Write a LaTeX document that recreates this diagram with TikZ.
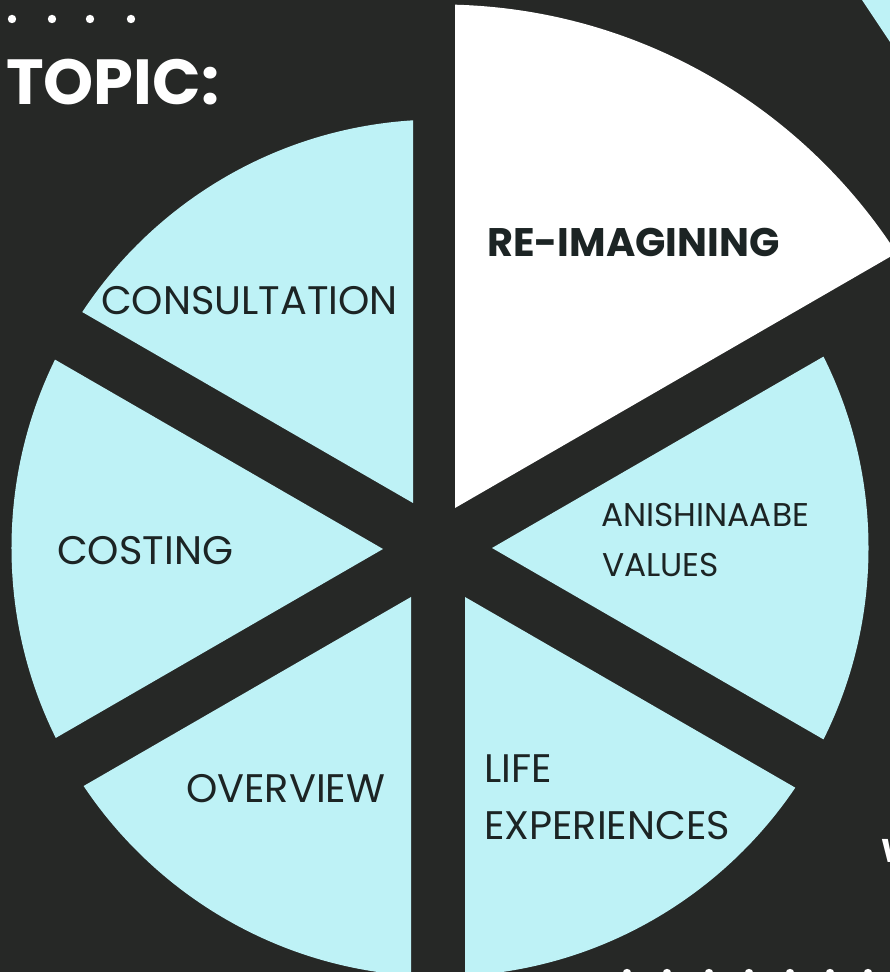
\documentclass[tikz,border=0pt]{standalone}
\usepackage{fontspec}
\setmainfont{Poppins}
\definecolor{board}{HTML}{262826}
\definecolor{sky}{HTML}{BEF2F6}
\definecolor{ink}{HTML}{1C2424}
\tikzset{
  lbl/.style={anchor=base west, inner sep=0pt, text=ink, font=\fontsize{40}{42}\selectfont},
  lblsmall/.style={anchor=base west, inner sep=0pt, text=ink, font=\fontsize{33}{35}\selectfont},
  dot/.style={fill=white, draw=none}
}
\newcommand{\piece}[4]{% apex, start angle, end angle, radius
  \begin{scope}
    \clip[shift={(#1)}] (0,0) -- (#2:1500) -- ({(#2+#3)/2}:1500) -- (#3:1500) -- cycle;
    \fill (centre) circle (#4);
  \end{scope}}
\begin{document}
\begin{tikzpicture}[x=1bp, y=1bp]
  \useasboundingbox (0,0) rectangle (890,972);
  \fill[board] (0,0) rectangle (890,972);
  \coordinate (centre) at (440,424);

  % six pie pieces, each with its own apex so the dark gaps show between them
  \begin{scope}[sky]
    \piece{413,469}{90}{150}{428.5bp}
    \piece{383,423}{150}{210}{428.5bp}
    \piece{411,375}{210}{270}{428.5bp}
    \piece{465,375}{270}{330}{428.5bp}
    \piece{492,424}{-30}{30}{428.5bp}
  \end{scope}
  \begin{scope}[white]
    \piece{455,464}{30}{90}{543.5bp}
  \end{scope}

  % corner of a neighbouring shape
  \fill[sky] (862,972) -- (890,972) -- (890,930) -- cycle;

  % dotted rows
  \foreach \x [count=\i] in {12,52,90,131} \fill[dot] (\x,953) circle (4.2bp) coordinate (td\i);
  \foreach \x [count=\i] in {627,667,709,749,790,830,868} \fill[dot] (\x,-1) circle (4.2bp) coordinate (bd\i);

  % heading
  \node[anchor=base west, inner sep=0pt, text=white, font=\fontsize{64}{66}\selectfont\bfseries] (topic) at (6,867) {TOPIC:};

  % labels
  \node[lbl] (consult) at (101,657) {CONSULTATION};
  \node[lbl, font=\fontsize{40}{42}\selectfont\bfseries] (reimag) at (487,715) {RE-IMAGINING};
  \node[lbl] (costing) at (57,407) {COSTING};
  \node[lbl] (overview) at (186,169) {OVERVIEW};
  \node[lblsmall] (anish) at (601,445) {ANISHINAABE};
  \node[lblsmall] (values) at (602,395) {VALUES};
  \node[lbl] (life) at (484,189) {LIFE};
  \node[lbl] (exper) at (484,132) {EXPERIENCES};

  % edge of a word running off the page
  \node[anchor=base west, inner sep=0pt, text=white, font=\fontsize{33}{35}\selectfont\bfseries] (wpart) at (881,109) {W};
\end{tikzpicture}
\end{document}
